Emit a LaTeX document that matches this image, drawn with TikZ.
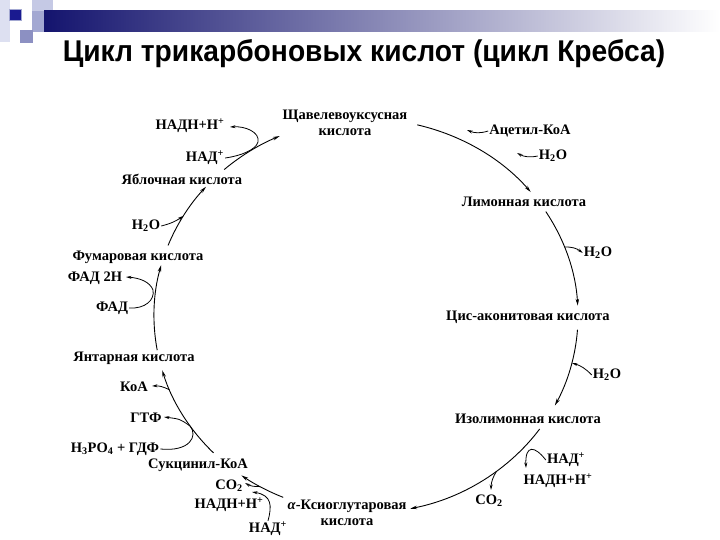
\documentclass[tikz,border=0pt]{standalone}
\usepackage{fontspec}
\setmainfont{Liberation Serif}
\setsansfont{Liberation Sans}
\usetikzlibrary{arrows.meta}
\definecolor{navy}{HTML}{14146E}
\definecolor{paleA}{HTML}{DDE0F1}
\definecolor{paleB}{HTML}{C5C9E5}
\definecolor{midA}{HTML}{8C90C2}
\definecolor{midB}{HTML}{A3A8D2}
\definecolor{dotblue}{HTML}{1A1A90}
\newcommand\cycpt[2]{\path (C) ++(#1:212pt and 197pt) coordinate (#2);}
\begin{document}
\begin{tikzpicture}[x=1pt,y=1pt,yscale=-1,
  lbl/.style={font=\bfseries\fontsize{14.5}{16}\selectfont, inner sep=1pt},
  cyc/.style={line width=0.9pt, -{Stealth[length=7pt,width=3.5pt]}},
  br/.style={line width=0.8pt, -{Stealth[length=5.5pt,width=3pt]}},
  arcr/.style={x radius=212pt, y radius=197pt}]
\useasboundingbox (0,0) rectangle (720,540);
\fill[white] (0,0) rectangle (720,540);
% decoration
\fill[paleA] (0,0) rectangle (10,42);
\fill[paleB] (32,0) rectangle (53,12);
\shade[left color=navy, right color=white] (44,11) rectangle (720,32);
\fill[midB] (32,11) rectangle (44,32);
\fill[midA] (20,30) rectangle (33,43);
\fill[dotblue, draw=midB, line width=1pt] (9,10) rectangle (21,21);
% title
\node[font=\sffamily\bfseries\fontsize{30}{32}\selectfont, anchor=base, inner sep=0pt] (title) at (364,62)
  {\scalebox{0.94}[1]{Цикл трикарбоновых кислот (цикл Кребса)}};
% labels
\node[lbl, align=center] (shchav) at (345,123) {Щавелевоуксусная\\кислота};
\node[lbl] (acetyl) at (530,131) {Ацетил-КоА};
\node[lbl] (h2oA) at (553,156) {H\textsubscript{2}O};
\node[lbl] (limon) at (524,202) {Лимонная кислота};
\node[lbl] (h2oB) at (598,253) {H\textsubscript{2}O};
\node[lbl] (cis) at (528,317) {Цис-аконитовая кислота};
\node[lbl] (h2oC) at (607,375) {H\textsubscript{2}O};
\node[lbl] (izo) at (528,419) {Изолимонная кислота};
\node[lbl] (nadA) at (566,460) {НАД\textsuperscript{+}};
\node[lbl] (nadhA) at (558,481) {НАДН+Н\textsuperscript{+}};
\node[lbl] (co2A) at (489,501) {CO\textsubscript{2}};
\node[lbl, align=center] (alpha) at (347,513) {\textit{α}-Ксиоглутаровая\\кислота};
\node[lbl] (nadB) at (268,529) {НАД\textsuperscript{+}};
\node[lbl] (nadhB) at (229,505) {НАДН+Н\textsuperscript{+}};
\node[lbl] (co2B) at (229,486) {CO\textsubscript{2}};
\node[lbl] (sukc) at (198,465) {Сукцинил-КоА};
\node[lbl] (phos) at (115,449) {H\textsubscript{3}PO\textsubscript{4} + ГДФ};
\node[lbl] (gtf) at (146,418) {ГТФ};
\node[lbl] (koa) at (134,387) {КоА};
\node[lbl] (yantar) at (134,358) {Янтарная кислота};
\node[lbl] (fad) at (112,308) {ФАД};
\node[lbl] (fadh) at (95,278) {ФАД 2Н};
\node[lbl] (fumar) at (138,257) {Фумаровая кислота};
\node[lbl] (h2oD) at (146,226) {H\textsubscript{2}O};
\node[lbl] (yabl) at (182,179) {Яблочная кислота};
\node[lbl] (nadC) at (205,158) {НАД\textsuperscript{+}};
\node[lbl] (nadhC) at (190,126) {НАДН+Н\textsuperscript{+}};
% cycle
\coordinate (C) at (366,316);
\cycpt{-76}{s1} \draw[cyc] (s1) arc[start angle=-76, end angle=-39, arcr];
\cycpt{-32}{s2} \draw[cyc] (s2) arc[start angle=-32, end angle=-3, arcr];
\cycpt{4}{s3}   \draw[cyc] (s3) arc[start angle=4, end angle=27, arcr];
\cycpt{35}{s4}  \draw[cyc] (s4) arc[start angle=35, end angle=78, arcr];
\cycpt{113}{s5} \draw[cyc] (s5) arc[start angle=113, end angle=126, arcr];
\cycpt{136}{s6} \draw[cyc] (s6) arc[start angle=136, end angle=164, arcr];
\cycpt{170}{s7} \draw[cyc] (s7) arc[start angle=170, end angle=195, arcr];
\cycpt{201}{s8} \draw[cyc] (s8) arc[start angle=201, end angle=221, arcr];
\cycpt{228}{s9} \draw[cyc] (s9) arc[start angle=228, end angle=246, arcr];
% branch points
\cycpt{-20.5}{bH2oB}
\cycpt{13.8}{bH2oC}
\cycpt{52}{bCo2A}
\cycpt{120}{bCo2B}
\cycpt{158}{bKoa}
\cycpt{146}{bGtf}
\cycpt{210.5}{bH2oD}
\coordinate (tAcetyl) at (467,130);
\coordinate (tH2oA) at (517,153);
\coordinate (tCo2A) at (491,490);
\coordinate (tNadhA) at (526,468);
\coordinate (tNadhB) at (252,492);
\coordinate (tCo2B) at (245,483);
\coordinate (tKoa) at (152,386);
\coordinate (tGtf) at (164,417);
\coordinate (tFadh) at (126,277);
\coordinate (tNadhC) at (230,127);
% branches
\draw[br] (acetyl.west) to[bend right=20] (tAcetyl);
\draw[br] (h2oA.west) to[bend right=20] (tH2oA);
\draw[br] (bH2oB) to[bend right=20] (h2oB.west);
\draw[br] (h2oC.west) to[bend left=15] (bH2oC);
\draw[br] (bCo2A) to[bend left=15] (tCo2A);
\draw[br] (nadA.west) .. controls (535,446) and (525,444) .. (tNadhA);
\draw[br] (nadB.north) .. controls (272,506) and (272,495) .. (tNadhB);
\draw[br] (bCo2B) to[bend right=15] (tCo2B);
\draw[br] (bKoa) to[bend left=15] (tKoa);
\draw[br] (phos.east) .. controls (190,452) and (198,436) .. (bGtf) .. controls (180,419) .. (tGtf);
\draw[br] (fad.east) .. controls (145,309) and (155,300) .. (153,290) .. controls (150,282) and (140,278) .. (tFadh);
\draw[br] (h2oD.east) to[bend left=10] (bH2oD);
\draw[br] (nadC.east) .. controls (240,156) and (256,150) .. (258,142) .. controls (260,132) and (245,126) .. (tNadhC);
\end{tikzpicture}
\end{document}
